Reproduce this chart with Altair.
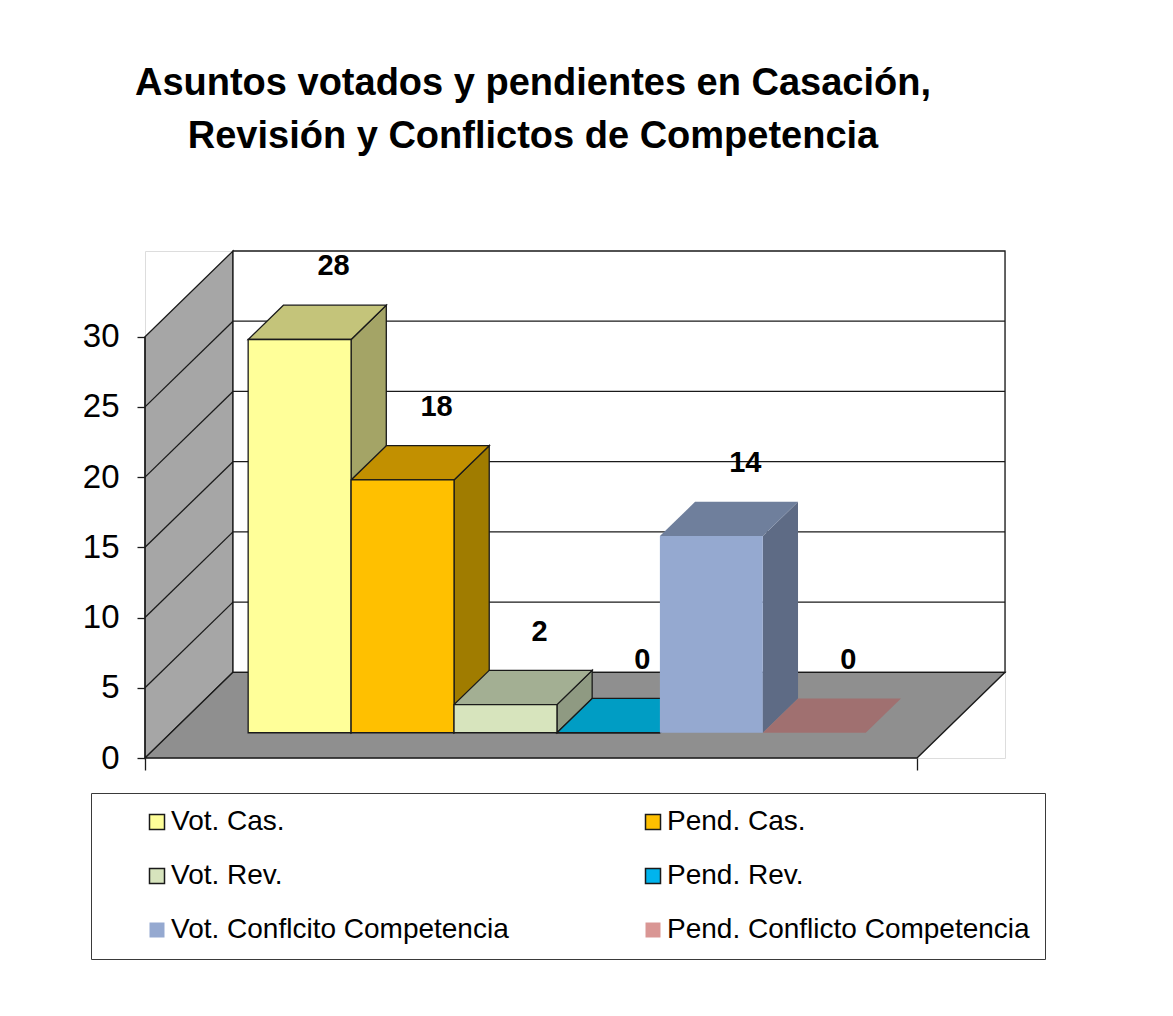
import altair as alt
import pandas as pd

# ---------------- data ----------------
series = ["Vot. Cas.", "Pend. Cas.", "Vot. Rev.", "Pend. Rev.",
          "Vot. Conflcito Competencia", "Pend. Conflicto Competencia"]
values = [28, 18, 2, 0, 14, 0]
y_ticks = [0, 5, 10, 15, 20, 25, 30]
title_lines = ["Asuntos votados y pendientes en Casación,",
               "Revisión y Conflictos de Competencia"]

# palettes (front / top / side shade of each series, outline)
front_colors = ["#FFFF99", "#FFC000", "#D7E4BD", "#00B4EE", "#95A9D0", "#D99694"]
top_colors = ["#C4C47A", "#C29000", "#A3AF93", "#009DC4", "#6F7F9C", "#A07070"]
side_colors = ["#A4A466", "#A07C00", "#8F9A82", "#0088AA", "#5E6B85", "#8A5E5E"]
edge_colors = ["#1a1a1a", "#1a1a1a", "#1a1a1a", "#1a1a1a", "transparent", "transparent"]

# ---------------- pseudo-3D geometry (in scale units) ----------------
N = len(series)
GAP = 0.75            # empty floor on each side, in bar widths
W = N + 2 * GAP       # floor width
DX = 0.855            # wall depth, horizontal (bar-width units)
DY = 6.1              # wall depth, vertical (value units)
F0, F1 = 0.295, 0.695 # front / back depth of the bar row
YMAX = 30
LABEL_DX, LABEL_DY = 0.33, 7.0

FONT = "Liberation Sans, Arial, sans-serif"

front_rows, top_rows, side_rows, label_rows = [], [], [], []
for i, (s, v) in enumerate(zip(series, values)):
    x0 = GAP + i
    front_rows.append(dict(series=s, x0=x0 + F0 * DX, x1=x0 + 1 + F0 * DX,
                           y0=F0 * DY, y1=v + F0 * DY))
    for f in (F0, F1):
        top_rows.append(dict(series=s, fill=top_colors[i], edge=edge_colors[i],
                             y=v + f * DY, xa=x0 + f * DX, xb=x0 + 1 + f * DX))
        side_rows.append(dict(series=s, fill=side_colors[i], edge=edge_colors[i],
                              x=x0 + 1 + f * DX, ylo=f * DY, yhi=v + f * DY))
    label_rows.append(dict(series=s, value=v, lx=x0 + 0.5 + F0 * DX + LABEL_DX,
                           ly=v + LABEL_DY))

front_df = pd.DataFrame(front_rows)
top_df = pd.DataFrame(top_rows)
side_df = pd.DataFrame(side_rows)
label_df = pd.DataFrame(label_rows)

sidewall_df = pd.DataFrame({"x": [0, DX], "ylo": [0, DY], "yhi": [YMAX, YMAX + DY]})
grid_vals = [t for t in y_ticks if 0 < t < YMAX]
sidegrid_df = pd.DataFrame({"x": [0] * len(grid_vals), "x2": [DX] * len(grid_vals),
                            "y": grid_vals, "y2": [g + DY for g in grid_vals]})
backwall_df = pd.DataFrame({"x": [DX], "x2": [W + DX], "y": [DY], "y2": [YMAX + DY]})
backgrid_df = pd.DataFrame({"x": [DX] * len(grid_vals), "x2": [W + DX] * len(grid_vals),
                            "y": [g + DY for g in grid_vals]})
floor_df = pd.DataFrame({"y": [0, DY], "xa": [0, DX], "xb": [W, W + DX]})
yaxis_df = pd.DataFrame({"x": [0], "y": [0], "y2": [YMAX]})

# ---------------- scales / axes ----------------
XS = alt.Scale(domain=[0, W + DX], nice=False, zero=False)
YS = alt.Scale(domain=[0, YMAX + DY], nice=False, zero=False)
XAX = alt.Axis(values=[0, W], labels=False, tickSize=12, domain=False, grid=False,
               title=None, tickColor="#1a1a1a", tickWidth=1.3)
YAX = alt.Axis(values=y_ticks, domain=False, grid=False, title=None, tickSize=8,
               tickColor="#1a1a1a", tickWidth=1.3, labelPadding=18,
               labelFont=FONT, labelFontSize=33, labelColor="black")


def X(f):
    return alt.X(f"{f}:Q", scale=XS, axis=XAX, stack=None)


def Y(f):
    return alt.Y(f"{f}:Q", scale=YS, axis=YAX, stack=None)


EDGE = "#1a1a1a"
SW = 1.3

side_wall = alt.Chart(sidewall_df).mark_area(
    fill="#A6A6A6", stroke=EDGE, strokeWidth=SW, orient="vertical"
).encode(x=X("x"), y=Y("ylo"), y2="yhi")

side_grid = alt.Chart(sidegrid_df).mark_rule(color=EDGE, strokeWidth=SW).encode(
    x=X("x"), x2="x2", y=Y("y"), y2="y2")

back_wall = alt.Chart(backwall_df).mark_rect(fill="white", stroke=EDGE, strokeWidth=SW).encode(
    x=X("x"), x2="x2", y=Y("y"), y2="y2")

back_grid = alt.Chart(backgrid_df).mark_rule(color=EDGE, strokeWidth=SW).encode(
    x=X("x"), x2="x2", y=Y("y"))

floor = alt.Chart(floor_df).mark_area(
    fill="#8F8F8F", stroke=EDGE, strokeWidth=SW, orient="horizontal"
).encode(y=Y("y"), x=X("xa"), x2="xb")

bar_sides = alt.Chart(side_df).mark_area(strokeWidth=SW, orient="vertical").encode(
    x=X("x"), y=Y("ylo"), y2="yhi",
    fill=alt.Fill("fill:N", scale=None), stroke=alt.Stroke("edge:N", scale=None),
    detail="series:N")

bar_tops = alt.Chart(top_df).mark_area(strokeWidth=SW, orient="horizontal").encode(
    y=Y("y"), x=X("xa"), x2="xb",
    fill=alt.Fill("fill:N", scale=None), stroke=alt.Stroke("edge:N", scale=None),
    detail="series:N")

LEG = alt.Legend(
    title=None, orient="none", legendX=-54, legendY=542, columns=2,
    direction="horizontal",
    symbolType="square", symbolSize=225, symbolStrokeWidth=1.5,
    symbolOffset=37, labelOffset=0, columnPadding=93, rowPadding=26,
    labelFont=FONT, labelFontSize=28, labelColor="black", labelLimit=1000,
    padding=15, fillColor="white", strokeColor="#3a3a3a",
)

bar_fronts = alt.Chart(front_df).mark_rect(strokeWidth=SW).encode(
    x=X("x0"), x2="x1", y=Y("y0"), y2="y1",
    fill=alt.Fill("series:N", scale=alt.Scale(domain=series, range=front_colors), legend=LEG),
    stroke=alt.Stroke("series:N", scale=alt.Scale(domain=series, range=edge_colors), legend=LEG),
)

y_axis_line = alt.Chart(yaxis_df).mark_rule(color=EDGE, strokeWidth=SW).encode(
    x=X("x"), y=Y("y"), y2="y2")

labels = alt.Chart(label_df).mark_text(
    font=FONT, fontSize=29, fontWeight="bold", color="black",
    align="center", baseline="middle"
).encode(x=X("lx"), y=Y("ly"), text="value:Q")

chart = alt.layer(
    side_wall, side_grid, back_wall, back_grid, floor,
    bar_sides, bar_tops, bar_fronts, y_axis_line, labels
).properties(
    width=860, height=507,
    title=alt.Title(title_lines, font=FONT, fontSize=38, fontWeight="bold",
                    color="black", anchor="middle", dx=-42, offset=92, lineHeight=53),
    autosize=alt.AutoSizeParams(type="none"),
    padding={"left": 137, "top": 243, "right": 160, "bottom": 250},
).configure_view(stroke=None).configure(background="white")

chart.save("out.html", embed_options={"renderer": "svg", "actions": False})
